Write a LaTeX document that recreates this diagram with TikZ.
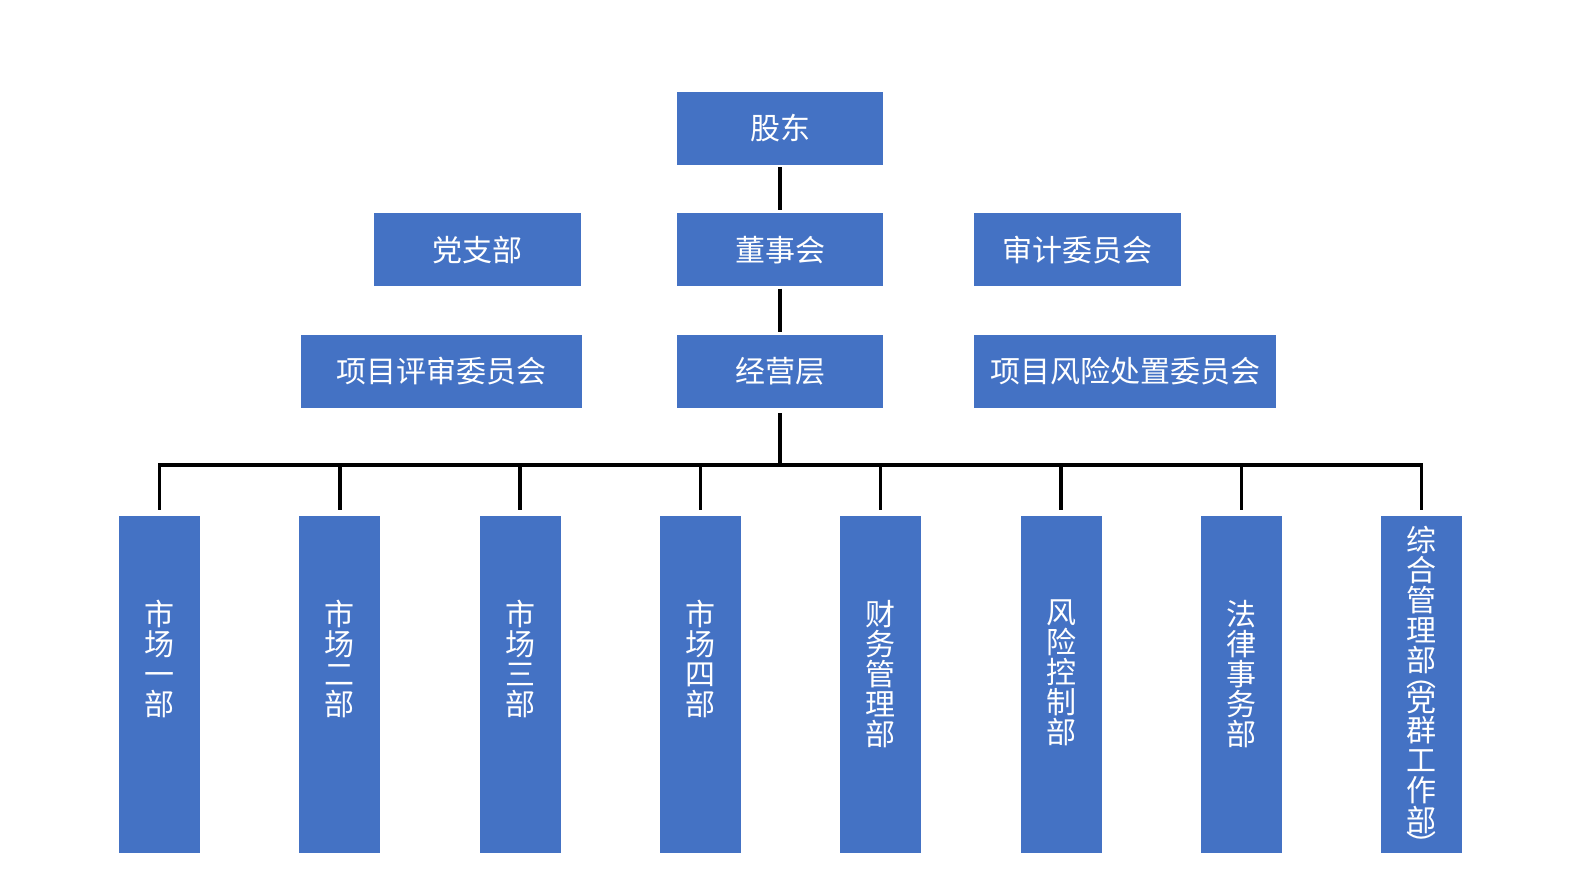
\documentclass[tikz,border=0pt]{standalone}
\usepackage{fontspec}
\newfontfamily\cjk{Noto Sans CJK SC}
\usetikzlibrary{positioning}
\definecolor{boxblue}{RGB}{68,114,196}

\begin{document}
\begin{tikzpicture}[x=1pt, y=-1pt,
        node distance = 48pt,
        box/.style = {fill=boxblue, text=white, font=\cjk\fontsize{30}{30}\selectfont,
            minimum height=73pt, inner sep=0pt, align=center},
        dept/.style = {fill=boxblue, minimum width=81pt, minimum height=337pt, inner sep=0pt},
        vtext/.style = {text=white, font=\cjk\fontsize{30}{30}\selectfont,
            align=center, inner sep=0pt, anchor=north},
        link/.style = {draw=black, line width=3.5pt, shorten <=2pt, shorten >=3pt}]
    \useasboundingbox (0,0) rectangle (1584,882);
    % main column
    \node[box, minimum width=206pt] (gd) at (780,128.5) {股东};
    \node[box, minimum width=206pt, below=of gd] (dsh) {董事会};
    \node[box, minimum width=206pt, below=of dsh] (jyc) {经营层};
    % committees
    \node[box, minimum width=207pt, left=96pt of dsh] (dzb) {党支部};
    \node[box, minimum width=281pt, left=95pt of jyc] (xmps) {项目评审委员会};
    \node[box, minimum width=207pt, right=91pt of dsh] (sjwy) {审计委员会};
    \node[box, minimum width=302pt, right=91pt of jyc] (fxcz) {项目风险处置委员会};
    % departments
    \foreach \i/\off/\t in {1/84/{市\\场\\一\\部}, 2/84/{市\\场\\二\\部},
            3/84/{市\\场\\三\\部}, 4/84/{市\\场\\四\\部}, 5/84/{财\\务\\管\\理\\部},
            6/84/{风\\险\\控\\制\\部}, 7/84/{法\\律\\事\\务\\部},
            8/10/{综\\合\\管\\理\\部\\[-15pt]︵\\[-5pt]党\\群\\工\\作\\部\\[-5pt]︶}} {
        \node[dept] (d\i) at ({159.5+180.3*(\i-1)}, 684.5) {};
        \node[vtext] (t\i) at ([yshift=-\off pt]d\i.north) {\t};
    }
    % connectors
    \path (gd) edge[link] (dsh)
          (dsh) edge[link] (jyc);
    \coordinate[below=57pt of jyc.south] (bus);
    \draw[link, shorten <=5pt, shorten >=0pt] (jyc) -- (bus);
    \draw[link, shorten <=6pt, shorten >=6pt] (d1.north) -- (d1.north |- bus)
        -- (d8.north |- bus) -- (d8.north);
    \foreach \i in {2,...,7}
        \draw[link, shorten <=0pt, shorten >=6pt] (bus -| d\i.north) -- (d\i.north);
\end{tikzpicture}
\end{document}
